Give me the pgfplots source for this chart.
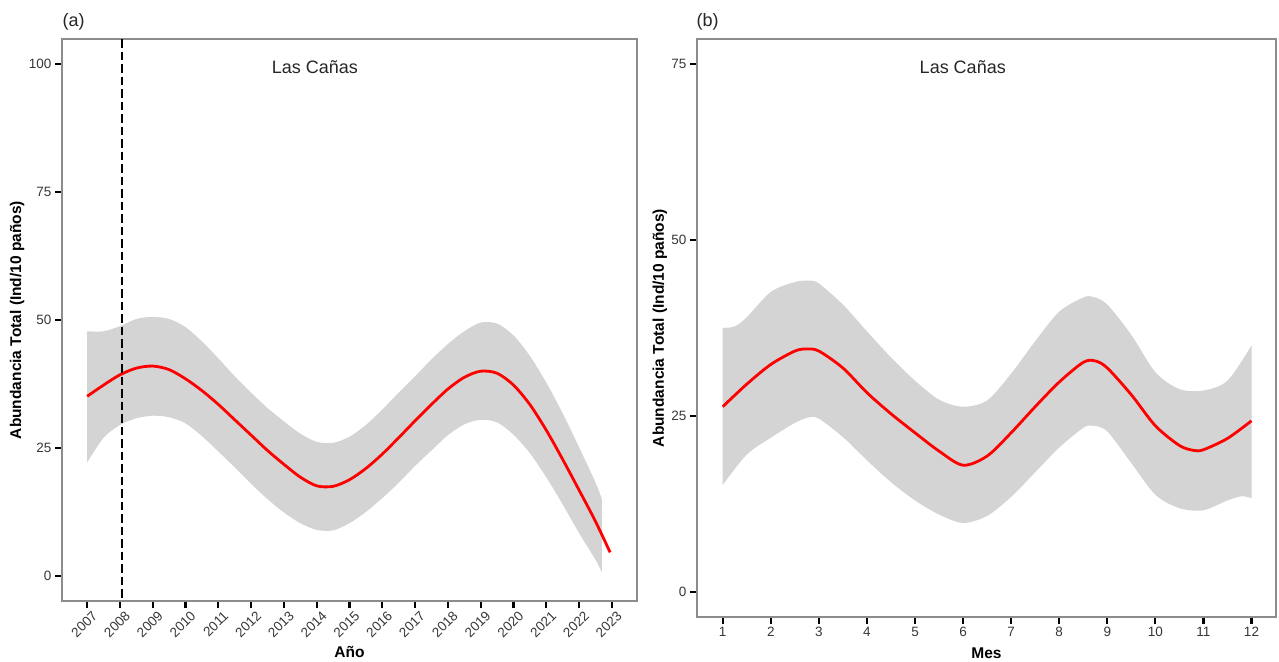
\documentclass[border=0pt]{standalone}
\usepackage{pgfplots}
\pgfplotsset{compat=1.18}
\usepgfplotslibrary{fillbetween}
\usepackage{fontspec}
\setmainfont{Liberation Sans}
\definecolor{bandgray}{RGB}{212,212,212}
\definecolor{framegray}{RGB}{140,140,140}
\definecolor{ticktext}{RGB}{55,55,55}
\pgfplotsset{
  panel/.style={
    scale only axis,
    axis line style={framegray, line width=1.1pt},
    tick align=outside,
    xtick pos=bottom, ytick pos=left,
    /pgf/number format/assume math mode=true,
    /pgf/number format/1000 sep={},
    ticklabel style={font=\fontsize{13.5}{13.5}\selectfont, text=ticktext},
    label style={font=\fontsize{15.5}{16}\selectfont\bfseries},
  }
}
\begin{document}
\begin{tikzpicture}
\path (0,0) rectangle (1279pt,-661pt);
\node[anchor=west, font=\fontsize{18}{18}\selectfont, text=black!85] at (59pt,-22pt) {(a)};
\node[anchor=west, font=\fontsize{18}{18}\selectfont, text=black!85] at (693pt,-22pt) {(b)};
% ---------------- panel (a)
\begin{axis}[panel,
  at={(62pt,-601pt)}, anchor=south west,
  width=575pt, height=562pt,
  xmin=2006.23, xmax=2023.77, ymin=-4.9, ymax=104.9,
  xtick={2007,2008,...,2023},
  ytick={0,25,50,75,100},
  major tick length=7pt,
  every tick/.style={black, line width=2.2pt},
  xticklabel style={rotate=45, anchor=north east, xshift=5pt, yshift=-1pt},
  xlabel={Año}, ylabel={Abundancia Total (Ind/10 paños)},
  xlabel style={at={(axis description cs:0.5,-0.0907)}, anchor=center},
  ylabel style={at={(axis description cs:-0.078,0.5)}, anchor=center},
]
\addplot[name path=upA, draw=none, smooth] coordinates {
(2007,47.8) (2007.5,47.8) (2008,48.8) (2008.5,50.2) (2009,50.6) (2009.5,50.2)
(2010,48.6) (2010.5,45.8) (2011,42.5) (2011.5,39.0) (2012,35.8) (2012.5,32.8)
(2013,30.2) (2013.5,27.8) (2014,26.2) (2014.5,26.0) (2015,27.2) (2015.5,29.5)
(2016,32.5) (2016.5,35.8) (2017,39.0) (2017.5,42.3) (2018,45.3) (2018.5,47.8)
(2019,49.5) (2019.5,49.3) (2020,47.0) (2020.5,43.0) (2021,37.8) (2021.5,31.8)
(2022,25.2) (2022.5,18.3) (2022.7,15.0)};
\addplot[name path=loA, draw=none, smooth] coordinates {
(2007,22.2) (2007.5,27.0) (2008,29.5) (2008.5,30.8) (2009,31.3) (2009.5,31.0)
(2010,29.8) (2010.5,27.3) (2011,24.3) (2011.5,21.2) (2012,18.0) (2012.5,15.0)
(2013,12.4) (2013.5,10.3) (2014,9.0) (2014.5,8.9) (2015,10.3) (2015.5,12.5)
(2016,15.2) (2016.5,18.2) (2017,21.5) (2017.5,24.5) (2018,27.5) (2018.5,29.6)
(2019,30.5) (2019.5,30.0) (2020,27.6) (2020.5,24.0) (2021,19.3) (2021.5,14.0)
(2022,8.4) (2022.5,3.2) (2022.7,0.7)};
\addplot[fill=bandgray, draw=none] fill between[of=upA and loA];
\addplot[red, line width=2.8pt, smooth] coordinates {
(2007,35.1) (2007.5,37.3) (2008,39.3) (2008.5,40.6) (2009,41.0) (2009.5,40.3)
(2010,38.5) (2010.5,36.2) (2011,33.5) (2011.5,30.5) (2012,27.5) (2012.5,24.5)
(2013,21.8) (2013.5,19.3) (2014,17.6) (2014.5,17.5) (2015,18.8) (2015.5,21.0)
(2016,23.8) (2016.5,27.0) (2017,30.3) (2017.5,33.5) (2018,36.5) (2018.5,38.8)
(2019,40.0) (2019.5,39.6) (2020,37.3) (2020.5,33.5) (2021,28.5) (2021.5,22.8)
(2022,16.8) (2022.5,10.7) (2022.95,4.6)};
\addplot[black, line width=2.2pt, dash pattern=on 8.5pt off 4pt] coordinates {(2008.05,104.9) (2008.05,-4.9)};
\node[font=\fontsize{18}{18}\selectfont, text=black!85] at (rel axis cs:0.44,0.95) {Las Cañas};
\end{axis}
% ---------------- panel (b)
\begin{axis}[panel,
  at={(697pt,-617pt)}, anchor=south west,
  width=579pt, height=578pt,
  xmin=0.465, xmax=12.51, ymin=-3.55, ymax=78.5,
  xtick={1,2,...,12},
  ytick={0,25,50,75},
  major tick length=7pt,
  every tick/.style={black, line width=2.2pt},
  xlabel={Mes}, ylabel={Abundancia Total (Ind/10 paños)},
  xlabel style={at={(axis description cs:0.5,-0.0623)}, anchor=center},
  ylabel style={at={(axis description cs:-0.064,0.5)}, anchor=center},
]
\addplot[name path=upB, draw=none, smooth] coordinates {
(1,37.5) (1.25,37.7) (1.5,39.0) (2,42.6) (2.5,44.0) (2.8,44.2) (3,43.8) (3.5,40.8)
(4,37.0) (4.5,33.3) (5,30.0) (5.5,27.3) (6,26.3) (6.5,27.2) (7,31.0) (7.5,35.6)
(8,39.8) (8.5,41.8) (8.7,41.9) (9,40.8) (9.5,36.5) (10,31.2) (10.5,28.8) (11,28.6)
(11.5,30.0) (12,35.0)};
\addplot[name path=loB, draw=none, smooth] coordinates {
(1,15.2) (1.5,19.5) (2,21.9) (2.5,24.0) (2.8,24.8) (3,24.6) (3.5,22.0) (4,18.7)
(4.5,15.6) (5,13.0) (5.5,11.0) (6,9.8) (6.5,10.8) (7,13.5) (7.5,17.0) (8,20.5)
(8.5,23.3) (8.7,23.6) (9,22.8) (9.5,18.3) (10,13.8) (10.5,11.9) (11,11.6) (11.5,13.0)
(11.8,13.6) (12,13.3)};
\addplot[fill=bandgray, draw=none] fill between[of=upB and loB];
\addplot[red, line width=2.8pt, smooth] coordinates {
(1,26.3) (1.5,29.5) (2,32.3) (2.5,34.2) (2.75,34.5) (3,34.2) (3.5,31.8) (4,28.3)
(4.5,25.3) (5,22.6) (5.5,20.0) (6,18.0) (6.5,19.3) (7,22.6) (7.5,26.3) (8,29.8)
(8.5,32.6) (8.75,32.8) (9,31.8) (9.5,28.0) (10,23.6) (10.5,20.8) (10.8,20.1) (11,20.2)
(11.5,21.8) (12,24.3)};
\node[font=\fontsize{18}{18}\selectfont, text=black!85] at (rel axis cs:0.459,0.952) {Las Cañas};
\end{axis}
\end{tikzpicture}
\end{document}
